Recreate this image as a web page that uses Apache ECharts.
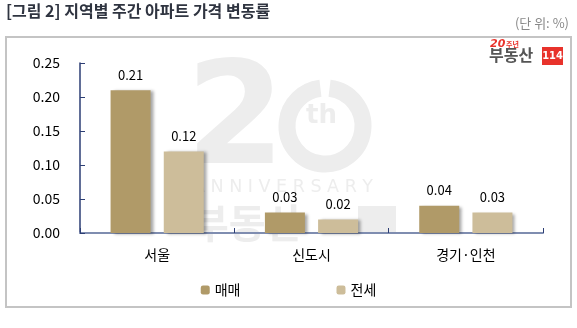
<!DOCTYPE html>
<html><head><meta charset="utf-8">
<script src="https://cdn.jsdelivr.net/npm/echarts@6/dist/echarts.min.js"></script>
<style>html,body{margin:0;padding:0;background:#fff}#c{width:577px;height:328px}</style>
</head><body><div id="c"></div>
<script>
const categories = ['서울', '신도시', '경기·인천'];
const saleValues = [0.21, 0.03, 0.04];
const jeonseValues = [0.12, 0.02, 0.03];
const yTicks = [0, 0.05, 0.10, 0.15, 0.20, 0.25];
const seriesNames = ['매매', '전세'];

const chart = echarts.init(document.getElementById('c'), null, {renderer: 'canvas'});
const font = '"Noto Sans CJK KR", "Noto Sans", sans-serif';
const wm = '#ededed';
chart.setOption({
  animation: false,
  textStyle: {fontFamily: font},
  graphic: [
    {type: 'rect', shape: {x: 6, y: 37, width: 565, height: 270}, style: {fill: 'none', stroke: '#c4c4c4', lineWidth: 2}, z: 0},
    {type: 'text', left: 6, top: 3, style: {text: '[그림 2] 지역별 주간 아파트 가격 변동률', fill: '#2f3440', font: 'bold 16px ' + font}},
    {type: 'text', right: 8, top: 17, style: {text: '(단 위: %)', fill: '#888', font: '13px ' + font}},
    // watermark
    {type: 'text', x: 186, y: 55, z: -1, style: {text: '2', fill: wm, font: 'bold 142px "DejaVu Sans", sans-serif'}},
    {type: 'arc', z: -1, shape: {cx: 325, cy: 126, r: 38, startAngle: -Math.PI/2 + 0.12, endAngle: Math.PI*1.5 - 0.12}, style: {stroke: wm, lineWidth: 17, fill: 'none'}},
    {type: 'text', x: 306, y: 103, z: -1, style: {text: 'th', fill: wm, font: 'bold 26px "DejaVu Sans", sans-serif'}},
    {type: 'text', x: 193, y: 178, z: -1, style: {text: 'A N N I V E R S A R Y', fill: wm, font: '17.5px "DejaVu Sans", sans-serif'}},
    {type: 'text', x: 192, y: 203, z: -1, style: {text: '부동산', fill: wm, font: 'bold 40px ' + font}},
    {type: 'rect', z: -1, shape: {x: 358, y: 206, width: 38, height: 28}, style: {fill: wm}},
    // logo
    {type: 'text', x: 490, y: 39, z: 10, style: {text: '20', fill: '#e8322b', font: 'bold italic 11px "DejaVu Sans", sans-serif'}},
    {type: 'text', x: 506, y: 41, z: 10, style: {text: '주년', fill: '#e8322b', font: 'bold 7px ' + font}},
    {type: 'text', x: 489, y: 47, z: 10, style: {text: '부동산', fill: '#555', font: 'bold 16px ' + font}},
    {type: 'rect', z: 10, shape: {x: 542, y: 47, width: 21, height: 18}, style: {fill: '#e8322b'}},
    {type: 'text', z: 11, x: 552.5, y: 56, style: {text: '114', fill: '#fff', align: 'center', verticalAlign: 'middle', font: 'bold 11px "DejaVu Sans Condensed", "Liberation Sans", sans-serif'}}
  ],
  legend: {
    bottom: 26, left: 'center', itemWidth: 9, itemHeight: 9, itemGap: 96,
    textStyle: {fontSize: 14, color: '#000', fontFamily: font},
    data: seriesNames
  },
  grid: {left: 80, right: 34, top: 63, bottom: 95},
  xAxis: {
    type: 'category', data: categories,
    axisLine: {lineStyle: {color: '#7f8db0', width: 2}},
    axisTick: {show: true, inside: true, length: 5, lineStyle: {color: '#2d3e74'}},
    axisLabel: {fontSize: 14, color: '#000', margin: 15}
  },
  yAxis: {
    type: 'value', min: 0, max: 0.25, interval: 0.05,
    splitLine: {show: false},
    axisLine: {show: true, lineStyle: {color: '#2d3e74', width: 1.5}},
    axisTick: {show: true, inside: true, length: 5, lineStyle: {color: '#2d3e74'}},
    axisLabel: {fontSize: 14, color: '#000', margin: 20, formatter: v => yTicks.includes(Math.round(v*100)/100) ? v.toFixed(2) : ''}
  },
  series: [
    {name: seriesNames[0], type: 'bar', data: saleValues, barWidth: 40, barGap: '33%',
     itemStyle: {color: '#b09a68', shadowColor: 'rgba(0,0,0,0.35)', shadowBlur: 3, shadowOffsetX: 3, shadowOffsetY: 1},
     label: {show: true, position: 'top', distance: 9, fontSize: 13, color: '#000', formatter: p => p.value.toFixed(2)}},
    {name: seriesNames[1], type: 'bar', data: jeonseValues, barWidth: 40,
     itemStyle: {color: '#cdbd9a', shadowColor: 'rgba(0,0,0,0.35)', shadowBlur: 3, shadowOffsetX: 3, shadowOffsetY: 1},
     label: {show: true, position: 'top', distance: 9, fontSize: 13, color: '#000', formatter: p => p.value.toFixed(2)}}
  ]
});
</script></body></html>
